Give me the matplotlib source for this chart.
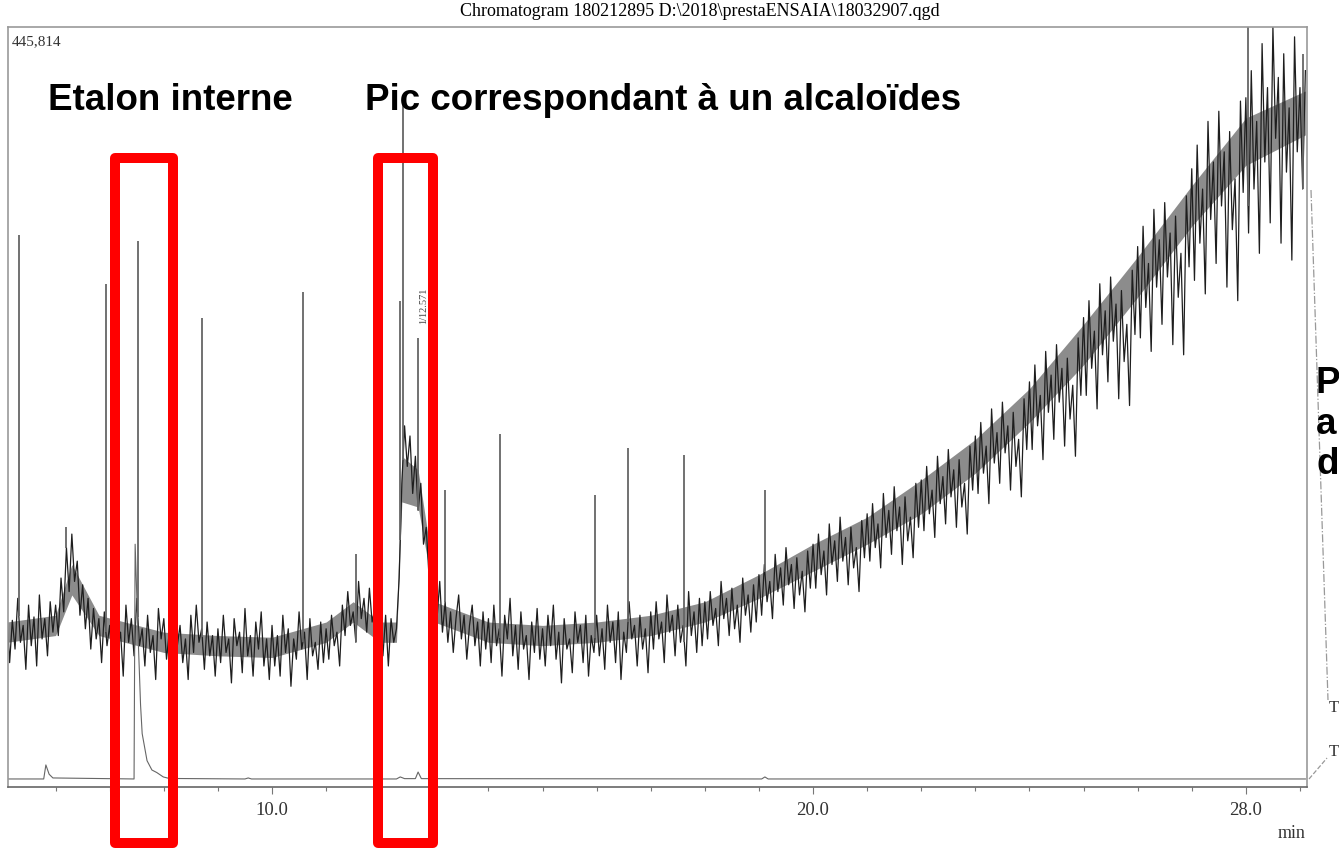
import numpy as np
import matplotlib
matplotlib.use('Agg')
import matplotlib.pyplot as plt
from matplotlib.patches import Rectangle
from matplotlib.lines import Line2D

# detector signal (x1000 counts), one reading every 0.05 min from 5.10 min
main_start = 5.1
main_step = 0.05
main_trace = [
    100, 70, 95, 78, 108, 82, 92, 66, 104, 80, 97, 68, 110, 84, 96, 74, 106, 88,
    104, 86, 120, 100, 138, 112, 146, 118, 130, 98, 116, 90, 108, 78, 102, 84, 96, 70, 100, 80,
    92, 66, 100, 78, 88, 62, 104, 82, 96, 74, 108, 80, 90, 68, 98, 76, 86, 60, 102, 84,
    96, 72, 88, 64, 100, 80, 92, 70, 84, 60, 98, 76, 104, 82, 90, 66, 94, 74, 86, 62,
    90, 70, 98, 76, 84, 58, 96, 80, 88, 64, 102, 74, 86, 62, 94, 78, 100, 68, 84, 60,
    92, 68, 86, 62, 98, 76, 90, 56, 84, 72, 100, 78, 88, 60, 96, 74, 82, 66, 94, 70,
    90, 72, 98, 80, 88, 68, 104, 86, 112, 92, 100, 82, 118, 96, 108, 88, 114, 94, 102, 80,
    92, 74, 98, 68, 96, 82, 90, 120, 176, 210, 186, 204, 170, 192, 160, 176, 140, 150, 122, 130,
    112, 96, 118, 88, 106, 82, 100, 76, 96, 110, 84, 98, 72, 92, 104, 80, 94, 68, 100, 78,
    96, 70, 104, 80, 90, 62, 98, 84, 108, 74, 92, 66, 100, 78, 86, 60, 94, 76, 102, 72,
    90, 68, 98, 80, 104, 72, 88, 58, 96, 78, 84, 64, 100, 82, 92, 70, 98, 62, 86, 76,
    98, 74, 90, 66, 104, 82, 94, 70, 100, 60, 88, 76, 106, 84, 92, 68, 98, 78, 90, 64,
    100, 78, 106, 84, 94, 70, 110, 88, 98, 74, 104, 82, 92, 68, 112, 86, 100, 76, 108, 80,
    106, 84, 112, 92, 102, 80, 118, 96, 108, 86, 114, 90, 104, 82, 120, 98, 110, 88, 116, 94,
    122, 98, 128, 106, 118, 96, 134, 112, 126, 104, 138, 116, 128, 102, 132, 110, 124, 100, 136, 114,
    140, 114, 146, 122, 136, 110, 152, 128, 142, 118, 156, 130, 144, 116, 150, 126, 138, 112, 154, 132,
    158, 130, 164, 138, 152, 126, 170, 144, 160, 134, 174, 148, 162, 128, 168, 142, 156, 132, 176, 150,
    178, 148, 186, 158, 172, 144, 192, 164, 180, 152, 196, 168, 184, 150, 190, 162, 176, 146, 198, 172,
    204, 170, 212, 182, 198, 164, 220, 188, 206, 176, 224, 194, 210, 172, 218, 186, 202, 168, 226, 196,
    236, 196, 246, 210, 228, 190, 254, 218, 240, 202, 258, 224, 244, 198, 250, 214, 234, 192, 262, 228,
    274, 228, 284, 244, 266, 220, 294, 252, 278, 236, 298, 260, 282, 226, 290, 248, 270, 222, 302, 264,
    316, 262, 328, 280, 306, 254, 338, 292, 320, 270, 342, 298, 324, 258, 334, 286, 312, 252, 346, 304,
    362, 296, 376, 318, 350, 288, 390, 332, 366, 306, 396, 340, 372, 292, 384, 326, 356, 284, 402, 348,
    404, 324, 420, 350, 390, 312, 436, 366, 410, 330, 446, 380, 416, 318, 430, 360, 398, 308, 440, 372,
    410, 350, 420,
]

# dark core of the noise band
band_t = [5.1, 6.0, 6.3, 6.8, 8, 9, 10, 11, 11.5, 12.0, 12.3, 12.4, 12.7, 12.9,
          13.0, 14, 15, 16, 17, 18, 19, 20, 21, 22, 23, 24, 25, 26, 27, 28, 29.1]
band_lo = [82, 86, 110, 86, 76, 74, 73, 82, 94, 82, 82, 165, 162, 126,
           94, 82, 80, 82, 86, 94, 108, 124, 140, 158, 182, 212, 246, 286, 328, 364, 382]
band_hi = [94, 98, 128, 98, 88, 86, 85, 94, 106, 94, 94, 192, 184, 142,
           106, 94, 92, 94, 98, 106, 122, 140, 156, 178, 202, 232, 270, 310, 352, 392, 408]

# sharp peaks: retention time (min) and apex
peak_t = [5.32, 6.2, 6.93, 7.52, 8.71, 10.57, 11.55, 12.37, 12.42, 12.70,
          13.20, 14.21, 15.97, 16.58, 17.62, 19.11, 28.04, 28.5, 29.05]
peak_top = [323, 150, 294, 319, 274, 289, 134, 284, 400, 262,
            172, 205, 169, 197, 193, 172, 446, 446, 430]

# second detector channel
t2 = [5.1, 5.78, 5.82, 5.88, 5.95, 7.45, 7.47, 7.52, 7.57, 7.60, 7.69,
      7.78, 7.87, 7.99, 8.1, 9.5, 9.56, 9.62, 12.3, 12.37, 12.45,
      12.65, 12.70, 12.76, 19.05, 19.11, 19.17, 29.1]
v2 = [1.2, 1.2, 9.5, 4.0, 1.8, 1.2, 140, 90, 45, 28, 12,
      6.5, 5.0, 2.4, 1.5, 1.2, 1.8, 1.2, 1.2, 2.4, 1.4,
      1.4, 5.3, 1.4, 1.2, 2.4, 1.2, 1.2]

y_top = 445.814

W, H = 1339, 849
fig = plt.figure(figsize=(W / 100, H / 100), dpi=100)


def fx(px):
    return px / W


def fy(py):
    return 1 - py / H


ax = fig.add_axes([fx(8), fy(787), fx(1307) - fx(8), fy(27) - fy(787)])

t_main = main_start + main_step * np.arange(len(main_trace))
ax.fill_between(band_t, band_lo, band_hi, color='#2e2e2e', alpha=0.55, lw=0)
ax.plot(t_main, main_trace, color='#1e1e1e', lw=0.9)
base = np.interp(peak_t, t_main, main_trace)
ax.vlines(peak_t, base, peak_top, color='#666666', lw=1.3)
ax.plot(t2, v2, color='#666666', lw=0.8)

ax.text(12.80, 262 + 8, '1/12.571', rotation=90, fontsize=7.5,
        family='Liberation Serif', color='#444444', ha='center', va='bottom')

ax.set_xlim(5.12, 29.13)
ax.set_ylim(-3.55, y_top)
ax.set_yticks([])
ax.set_xticks([10, 20, 28])
ax.set_xticklabels(['10.0', '20.0', '28.0'], family='Liberation Serif',
                   fontsize=13.5, color='#333333')
ax.set_xticks(np.arange(6, 30, 1), minor=True)
ax.tick_params(axis='x', which='major', length=5, width=0.8, color='#777777', pad=6)
ax.tick_params(axis='x', which='minor', length=3, width=0.8, color='#777777')
for s in ax.spines.values():
    s.set_color('#999999')
    s.set_linewidth(1.2)
ax.spines['bottom'].set_color('#666666')

fig.text(fx(700), fy(12), r'Chromatogram 180212895 D:\2018\prestaENSAIA\18032907.qgd',
         family='Liberation Serif', fontsize=13, ha='center', va='center')
fig.text(fx(12), fy(42), '445,814', family='Liberation Serif', fontsize=11,
         ha='left', va='center', color='#333333')
fig.text(fx(1292), fy(833), 'min', family='Liberation Serif', fontsize=13,
         ha='center', va='center', color='#333333')

bold = dict(family='Liberation Sans', fontweight='bold', fontsize=26.5, va='center')
fig.text(fx(48), fy(100), 'Etalon interne', ha='left', **bold)
fig.text(fx(365), fy(100), 'Pic correspondant à un alcaloïdes', ha='left', **bold)
fig.text(fx(1316), fy(424), 'P\na\nd', ha='left', linespacing=1.2, **bold)

# trace labels cut off at the right edge
fig.add_artist(Line2D([fx(1311), fx(1328)], [fy(190), fy(700)], color='#999999',
                      lw=0.9, ls='-.'))
fig.add_artist(Line2D([fx(1309), fx(1327)], [fy(779), fy(758)], color='#999999',
                      lw=0.9, ls='--'))
fig.text(fx(1329), fy(708), 'T', family='Liberation Serif', fontsize=12,
         va='center', color='#333333')
fig.text(fx(1329), fy(752), 'T', family='Liberation Serif', fontsize=12,
         va='center', color='#333333')

# highlight boxes
for x0, x1 in [(115, 173), (378, 433)]:
    fig.add_artist(Rectangle((fx(x0), fy(843)), fx(x1) - fx(x0), fy(158) - fy(843),
                             transform=fig.transFigure, fill=False,
                             edgecolor='#ff0000', lw=7.2, joinstyle='round'))

fig.savefig('out.png', dpi=100)
